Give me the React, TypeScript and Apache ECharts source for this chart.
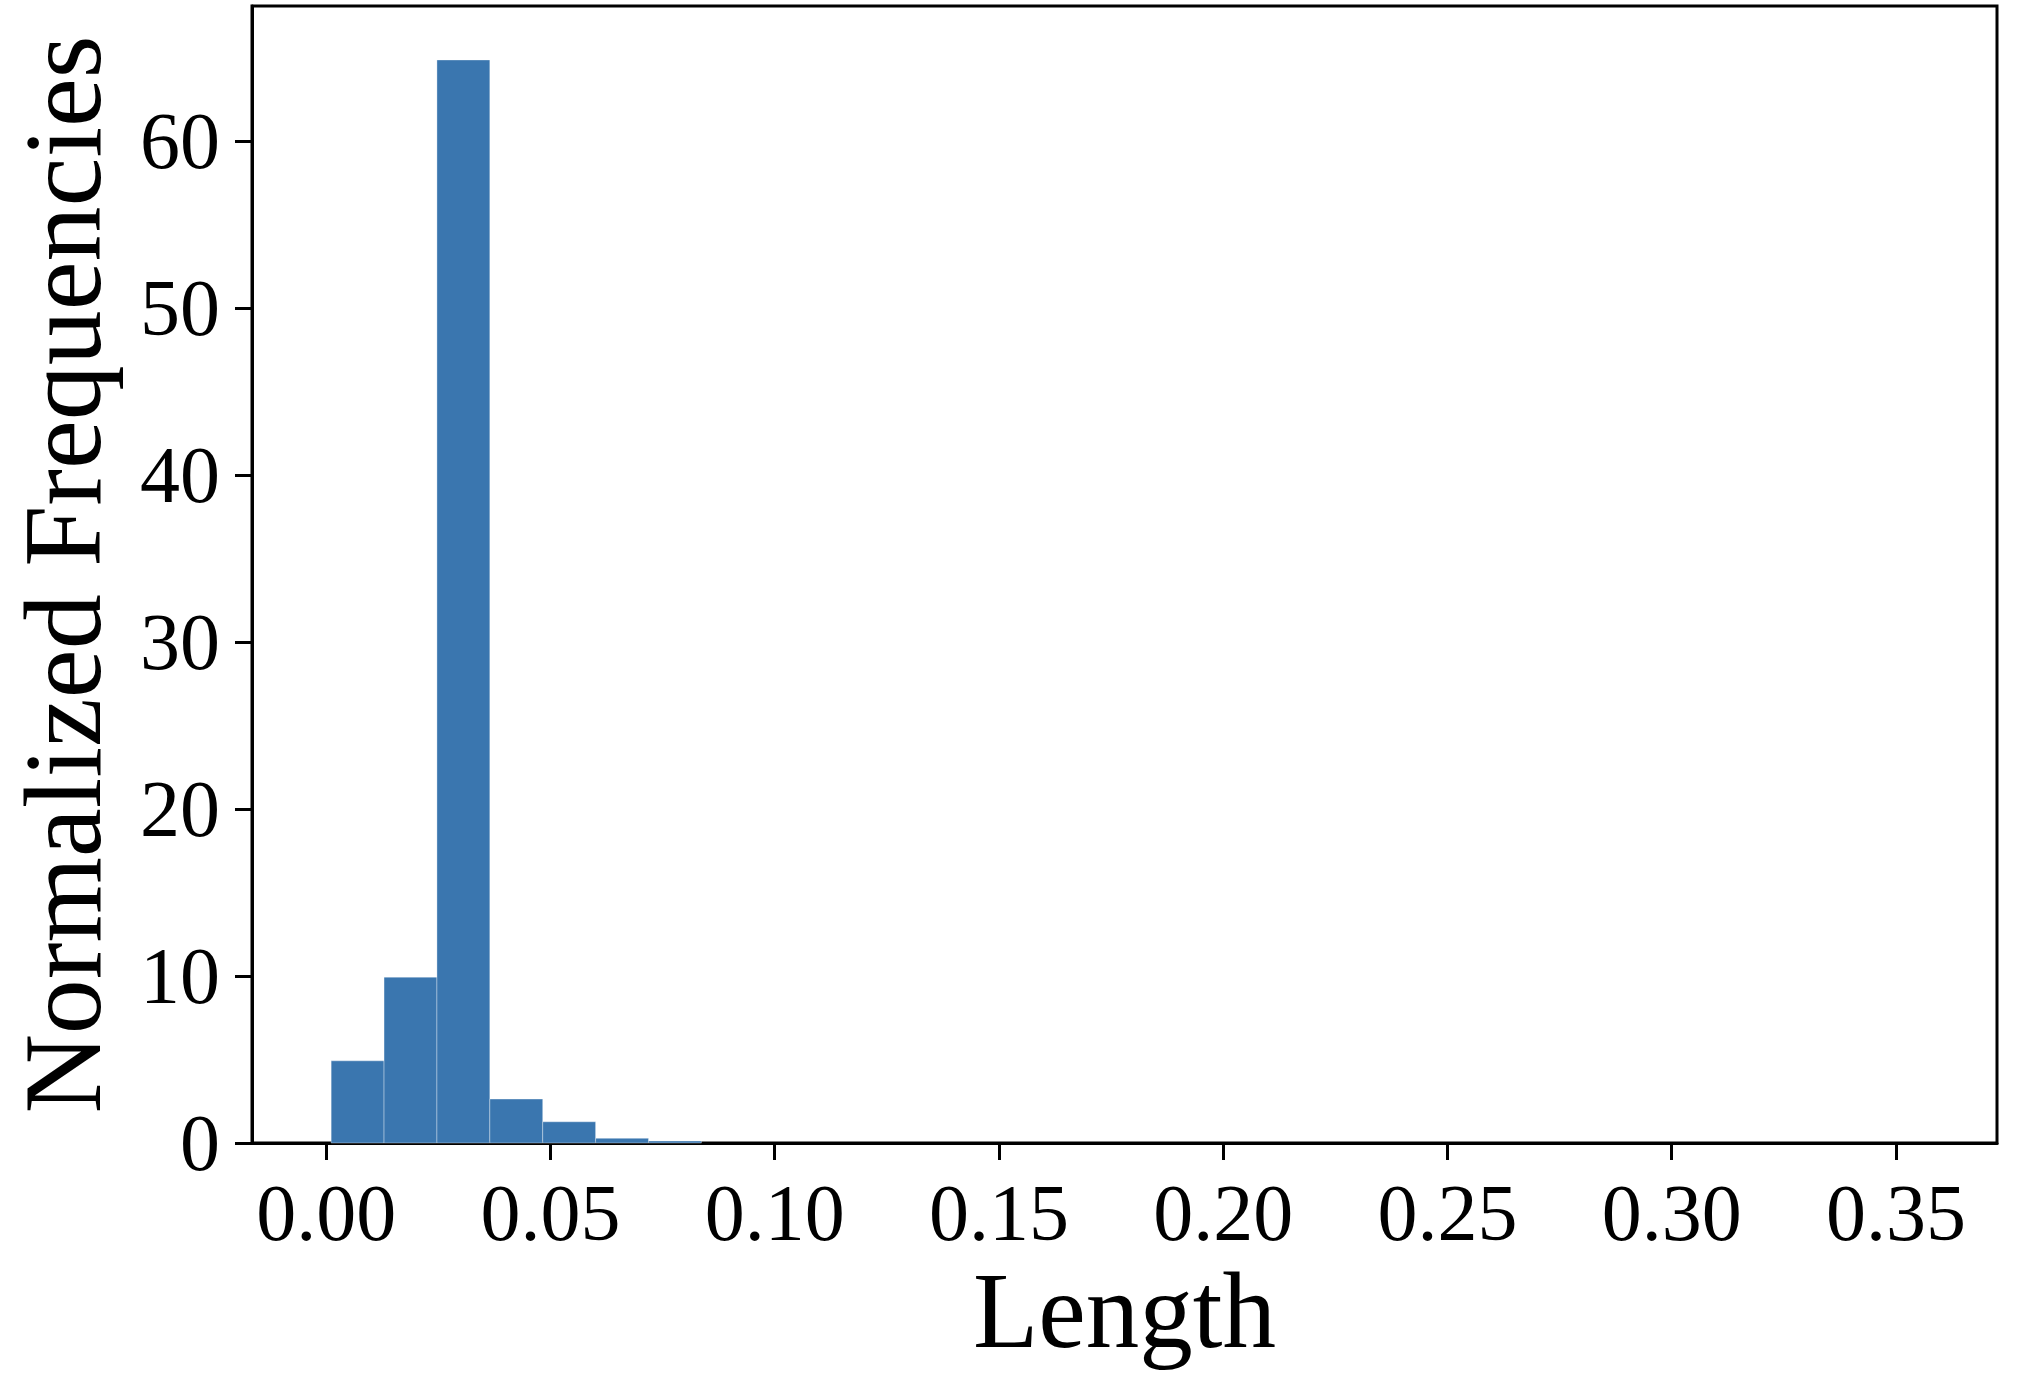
import React, { useEffect, useRef } from "react";
import * as echarts from "echarts";

// Histogram bins (density-normalized)
const binStart = 0.0011;
const binWidth = 0.011793;
const binHeights = [
  4.92, 9.93, 64.85, 2.63, 1.27, 0.28, 0.12, 0, 0, 0,
  0, 0, 0, 0, 0, 0, 0, 0, 0, 0,
  0, 0, 0, 0, 0, 0, 0, 0, 0, 0,
];
const xTicks = [0, 0.05, 0.1, 0.15, 0.2, 0.25, 0.3, 0.35];
const yTicks = [0, 10, 20, 30, 40, 50, 60];
const xMin = -0.01655;
const xMax = 0.37254;
const yMax = 68.08;

const FONT = "'Liberation Serif', 'Times New Roman', serif";

export default function App() {
  const ref = useRef<HTMLDivElement>(null);
  useEffect(() => {
    if (!ref.current) return;
    const chart = echarts.init(ref.current, undefined, { renderer: "svg" });
    const data = binHeights.map((h, i) => [
      binStart + i * binWidth,
      binStart + (i + 1) * binWidth,
      h,
    ]);
    chart.setOption({
      animation: false,
      backgroundColor: "#ffffff",
      grid: {
        left: 250,
        right: 27,
        top: 6,
        bottom: 237,
        show: true,
        borderColor: "#000",
        borderWidth: 3,
        backgroundColor: "transparent",
      },
      xAxis: {
        type: "value",
        min: xMin,
        max: xMax,
        name: "Length",
        nameLocation: "middle",
        nameGap: 112,
        nameTextStyle: { fontFamily: FONT, fontSize: 107, color: "#000" },
        splitLine: { show: false },
        axisLine: { show: true, onZero: false, lineStyle: { color: "#000", width: 3 } },
        axisTick: {
          show: true,
          customValues: xTicks,
          length: 17,
          lineStyle: { color: "#000", width: 3 },
        },
        axisLabel: {
          customValues: xTicks,
          formatter: (v: number) => v.toFixed(2),
          fontFamily: FONT,
          fontSize: 80,
          color: "#000",
          margin: 30,
          showMinLabel: true,
          showMaxLabel: true,
        },
      },
      yAxis: {
        type: "value",
        min: 0,
        max: yMax,
        name: "Normalized Frequencies",
        nameLocation: "middle",
        nameGap: 134,
        nameTextStyle: { fontFamily: FONT, fontSize: 110, color: "#000" },
        splitLine: { show: false },
        axisLine: { show: true, onZero: false, lineStyle: { color: "#000", width: 3 } },
        axisTick: {
          show: true,
          customValues: yTicks,
          length: 17,
          lineStyle: { color: "#000", width: 3 },
        },
        axisLabel: {
          customValues: yTicks,
          fontFamily: FONT,
          fontSize: 80,
          color: "#000",
          margin: 32,
          showMinLabel: true,
          showMaxLabel: true,
        },
      },
      series: [
        {
          type: "custom",
          data,
          encode: { x: [0, 1], y: 2 },
          renderItem: (params: any, api: any) => {
            const x0 = api.value(0);
            const x1 = api.value(1);
            const h = api.value(2);
            if (!h) return null;
            const p0 = api.coord([x0, 0]);
            const p1 = api.coord([x1, h]);
            return {
              type: "rect",
              shape: {
                x: p0[0],
                y: p1[1],
                width: p1[0] - p0[0],
                height: p0[1] - p1[1],
              },
              style: {
                fill: "#3A76AF",
                stroke: "rgba(255,255,255,0.35)",
                lineWidth: 1,
              },
            };
          },
        },
      ],
    });
    return () => chart.dispose();
  }, []);
  return (
    <div
      ref={ref}
      style={{ position: "fixed", left: 0, top: 0, width: 2024, height: 1380, background: "#fff" }}
    />
  );
}
